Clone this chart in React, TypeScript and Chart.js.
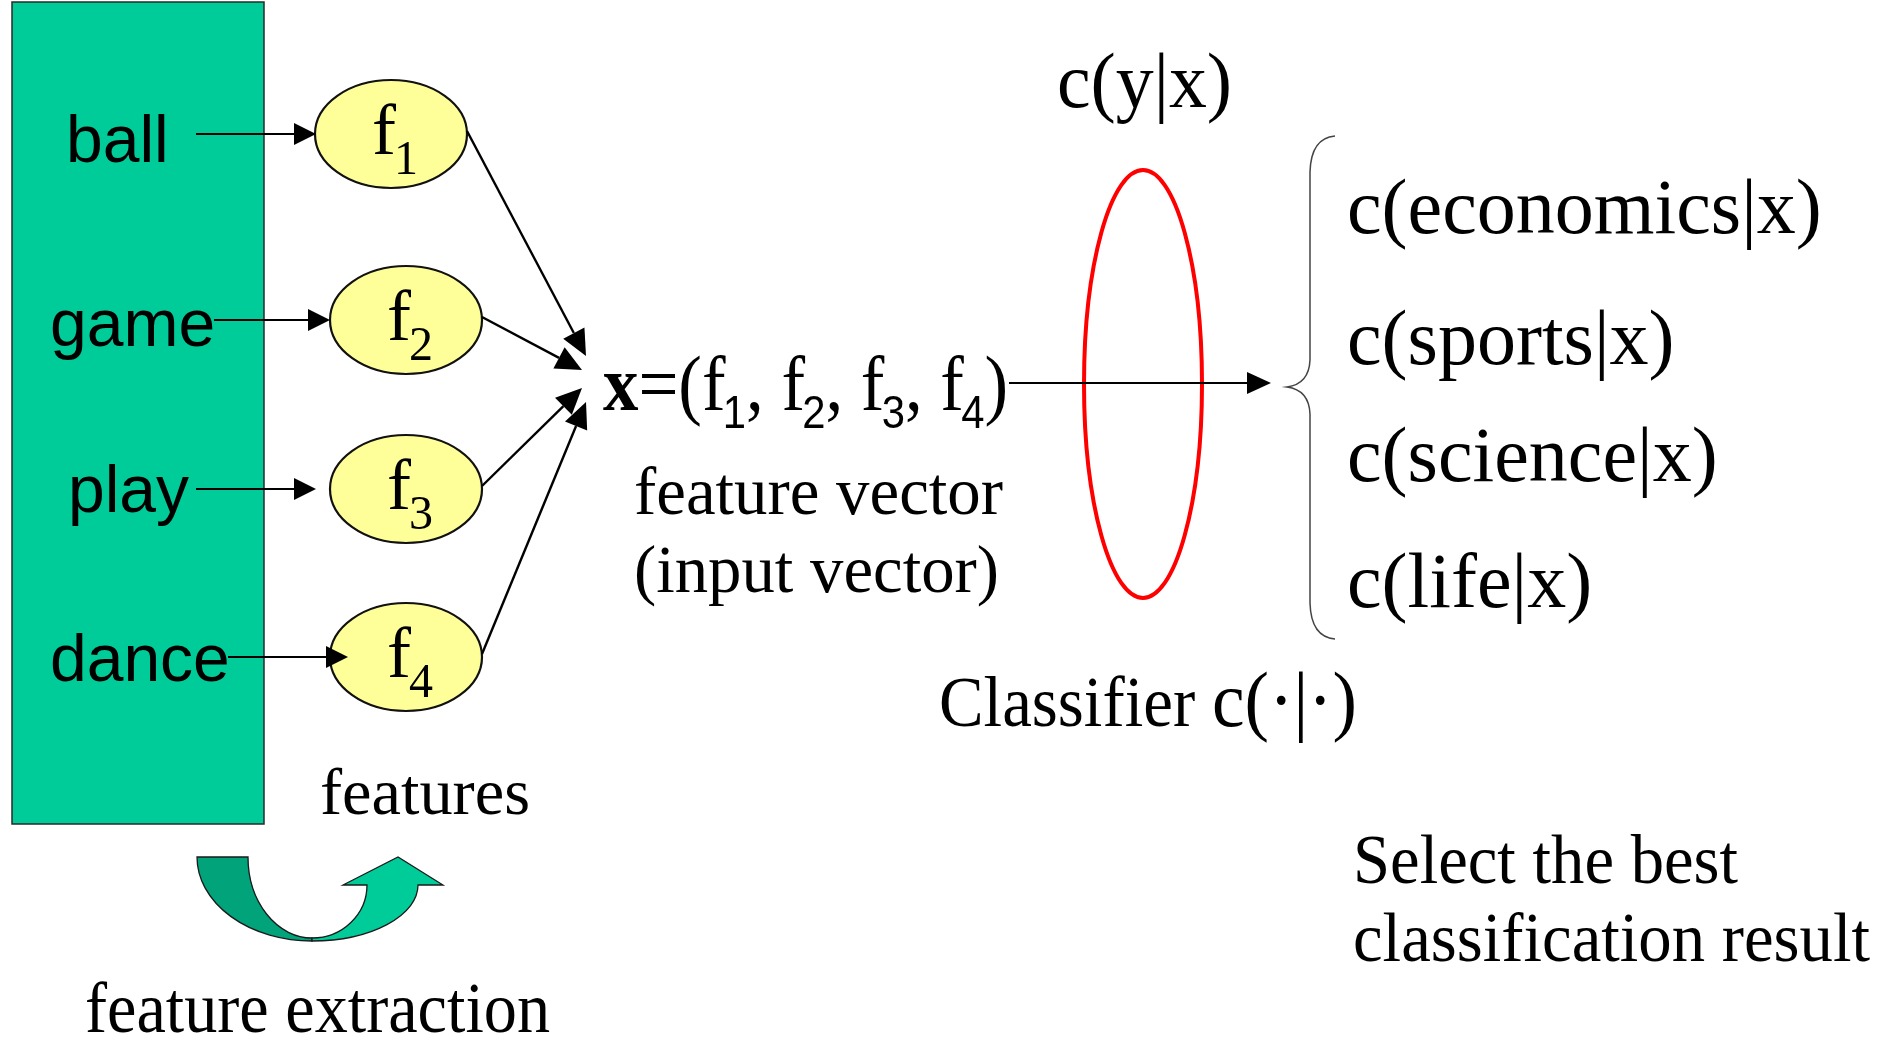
import React, { useEffect, useRef } from "react";
import { Chart, registerables } from "chart.js";

Chart.register(...registerables);

const FRAME_W = 1883;
const FRAME_H = 1037;

// ---- content ----
const WORDS = ["ball", "game", "play", "dance"];
const FEATURE_SUBS = ["1", "2", "3", "4"];
const CLASSES = ["economics", "sports", "science", "life"];
const TOP_LABEL = "c(y|x)";
const VECTOR_CAPTION = ["feature vector", "(input vector)"];
const CLASSIFIER_CAPTION = "Classifier c(·|·)";
const FEATURES_CAPTION = "features";
const EXTRACTION_CAPTION = "feature extraction";
const SELECT_CAPTION = ["Select the best", "classification result"];

// ---- layout (diagram units on the x / y scales) ----
const WORD_X = [66, 50, 68, 50];
const WORD_Y = [162, 346, 512, 681];
const ARROW_FROM_X = [196, 214, 196, 228];
const ARROW_TO_X = [316, 330, 316, 348];
const NODE_X = [391, 406, 406, 406];
const NODE_Y = [134, 320, 489, 657];
const EDGE_TO_X = [586, 582, 582, 586];
const EDGE_TO_Y = [356, 370, 388, 402];
const CLASS_Y = [233, 364, 481, 607];

const SERIF = "'Liberation Serif', 'Times New Roman', serif";
const SANS = "'Liberation Sans', Arial, sans-serif";

type Run = { t: string; font: string; dy?: number; dx?: number };

function drawRuns(ctx: CanvasRenderingContext2D, runs: Run[], x: number, y: number, targetW?: number) {
  let total = 0;
  for (const r of runs) {
    ctx.font = r.font;
    total += ctx.measureText(r.t).width + (r.dx || 0);
  }
  const sx = targetW ? targetW / total : 1;
  ctx.save();
  ctx.translate(x, y);
  ctx.scale(sx, 1);
  ctx.textBaseline = "alphabetic";
  ctx.textAlign = "left";
  let cx = 0;
  for (const r of runs) {
    ctx.font = r.font;
    cx += r.dx || 0;
    ctx.fillText(r.t, cx, r.dy || 0);
    cx += ctx.measureText(r.t).width;
  }
  ctx.restore();
}

function arrow(ctx: CanvasRenderingContext2D, x1: number, y1: number, x2: number, y2: number, len = 20, half = 10) {
  const a = Math.atan2(y2 - y1, x2 - x1);
  const bx = x2 - len * Math.cos(a);
  const by = y2 - len * Math.sin(a);
  ctx.beginPath();
  ctx.moveTo(x1, y1);
  ctx.lineTo(bx, by);
  ctx.stroke();
  ctx.beginPath();
  ctx.moveTo(x2, y2);
  ctx.lineTo(bx + half * Math.sin(a), by - half * Math.cos(a));
  ctx.lineTo(bx - half * Math.sin(a), by + half * Math.cos(a));
  ctx.closePath();
  ctx.fill();
}

const diagramPlugin = {
  id: "diagram",
  afterDraw(chart: any) {
    const ctx: CanvasRenderingContext2D = chart.ctx;
    const xs = chart.scales.x;
    const ys = chart.scales.y;
    const X = (v: number) => xs.getPixelForValue(v);
    const Y = (v: number) => ys.getPixelForValue(v);
    const S = (v: number) => X(v) - X(0);
    const SY = (v: number) => Y(v) - Y(0);

    ctx.save();
    ctx.fillStyle = "#ffffff";
    ctx.fillRect(0, 0, chart.width, chart.height);

    // green document box
    ctx.fillStyle = "#00CC99";
    ctx.strokeStyle = "#2a2a2a";
    ctx.lineWidth = 1.5;
    ctx.fillRect(X(12), Y(2), S(252), SY(822));
    ctx.strokeRect(X(12), Y(2), S(252), SY(822));

    // words
    ctx.fillStyle = "#000";
    WORDS.forEach((w, i) => {
      drawRuns(ctx, [{ t: w, font: `66px ${SANS}` }], X(WORD_X[i]), Y(WORD_Y[i]));
    });

    // feature nodes
    FEATURE_SUBS.forEach((s, i) => {
      ctx.beginPath();
      ctx.ellipse(X(NODE_X[i]), Y(NODE_Y[i]), S(76), SY(54), 0, 0, Math.PI * 2);
      ctx.fillStyle = "#FFFF99";
      ctx.fill();
      ctx.lineWidth = 2.2;
      ctx.strokeStyle = "#111";
      ctx.stroke();
      ctx.fillStyle = "#000";
      drawRuns(
        ctx,
        [
          { t: "f", font: `72px ${SERIF}` },
          { t: s, font: `48px ${SERIF}`, dy: 20, dx: -2 },
        ],
        X(NODE_X[i] - 19),
        Y(NODE_Y[i] + 20)
      );
    });

    // word -> feature arrows
    ctx.strokeStyle = "#000";
    ctx.fillStyle = "#000";
    ctx.lineWidth = 2.2;
    WORDS.forEach((_, i) => {
      arrow(ctx, X(ARROW_FROM_X[i]), Y(NODE_Y[i]), X(ARROW_TO_X[i]), Y(NODE_Y[i]), 22, 11);
    });

    // feature -> vector edges
    ctx.lineWidth = 2.4;
    FEATURE_SUBS.forEach((_, i) => {
      arrow(ctx, X(NODE_X[i] + 76), Y(NODE_Y[i] - 3), X(EDGE_TO_X[i]), Y(EDGE_TO_Y[i]), 26, 12);
    });

    // x = (f1, f2, f3, f4)
    const big = `78px ${SERIF}`;
    const sub = `46px ${SANS}`;
    const runs: Run[] = [{ t: "x", font: `bold 78px ${SERIF}` }, { t: "=(", font: big }];
    FEATURE_SUBS.forEach((s, i) => {
      runs.push({ t: "f", font: big });
      runs.push({ t: s, font: sub, dy: 18, dx: -3 });
      if (i < FEATURE_SUBS.length - 1) runs.push({ t: ", ", font: big });
    });
    runs.push({ t: ")", font: big });
    drawRuns(ctx, runs, X(603), Y(410), S(405));

    // captions for vector
    drawRuns(ctx, [{ t: VECTOR_CAPTION[0], font: `67px ${SERIF}` }], X(634), Y(514), S(369));
    drawRuns(ctx, [{ t: VECTOR_CAPTION[1], font: `67px ${SERIF}` }], X(634), Y(592), S(365));

    // classifier ellipse
    ctx.beginPath();
    ctx.ellipse(X(1143), Y(384), S(59), SY(214), 0, 0, Math.PI * 2);
    ctx.strokeStyle = "#FF0000";
    ctx.lineWidth = 4;
    ctx.stroke();

    // vector -> classes arrow
    ctx.strokeStyle = "#000";
    ctx.fillStyle = "#000";
    ctx.lineWidth = 2.2;
    arrow(ctx, X(1009), Y(383), X(1271), Y(383), 24, 11);

    // c(y|x)
    drawRuns(ctx, [{ t: TOP_LABEL, font: `78px ${SERIF}` }], X(1057), Y(107), S(175));

    // brace
    ctx.beginPath();
    ctx.moveTo(X(1335), Y(136));
    ctx.quadraticCurveTo(X(1311), Y(138), X(1310), Y(172));
    ctx.lineTo(X(1310), Y(360));
    ctx.quadraticCurveTo(X(1309), Y(384), X(1287), Y(387));
    ctx.quadraticCurveTo(X(1309), Y(390), X(1310), Y(414));
    ctx.lineTo(X(1310), Y(603));
    ctx.quadraticCurveTo(X(1311), Y(637), X(1335), Y(639));
    ctx.strokeStyle = "#444";
    ctx.lineWidth = 1.5;
    ctx.stroke();

    // class labels
    ctx.fillStyle = "#000";
    CLASSES.forEach((c, i) => {
      drawRuns(ctx, [{ t: `c(${c}|x)`, font: `78px ${SERIF}` }], X(1347), Y(CLASS_Y[i]));
    });

    // classifier caption
    drawRuns(
      ctx,
      [
        { t: "Classifier ", font: `71px ${SERIF}` },
        { t: "c(·|·)", font: `78px ${SERIF}` },
      ],
      X(939),
      Y(726),
      S(418)
    );

    // features caption
    drawRuns(ctx, [{ t: FEATURES_CAPTION, font: `66px ${SERIF}` }], X(320), Y(814), S(210));

    // select caption
    drawRuns(ctx, [{ t: SELECT_CAPTION[0], font: `69px ${SERIF}` }], X(1353), Y(883), S(385));
    drawRuns(ctx, [{ t: SELECT_CAPTION[1], font: `69px ${SERIF}` }], X(1353), Y(961), S(517));

    // feature extraction caption
    drawRuns(ctx, [{ t: EXTRACTION_CAPTION, font: `71px ${SERIF}` }], X(85), Y(1032), S(465));

    // curved arrow: dark part
    ctx.lineWidth = 1.3;
    ctx.strokeStyle = "#1a1a1a";
    ctx.beginPath();
    ctx.moveTo(X(197), Y(857));
    ctx.lineTo(X(248), Y(857));
    ctx.ellipse(X(312), Y(857), S(64), SY(81), 0, Math.PI, Math.PI / 2, true);
    ctx.ellipse(X(312), Y(857), S(115), SY(84), 0, Math.PI / 2, Math.PI, false);
    ctx.closePath();
    ctx.fillStyle = "#00A37A";
    ctx.fill();
    ctx.stroke();

    // curved arrow: light part with head
    ctx.beginPath();
    ctx.moveTo(X(312), Y(938));
    ctx.ellipse(X(312), Y(885), S(55), SY(53), 0, Math.PI / 2, 0, true);
    ctx.lineTo(X(343), Y(885));
    ctx.lineTo(X(398), Y(857));
    ctx.lineTo(X(443), Y(885));
    ctx.lineTo(X(418), Y(885));
    ctx.ellipse(X(312), Y(885), S(106), SY(56), 0, 0, Math.PI / 2, false);
    ctx.closePath();
    ctx.fillStyle = "#00CC99";
    ctx.fill();
    ctx.stroke();

    ctx.restore();
  },
};

export default function App() {
  const ref = useRef<HTMLCanvasElement | null>(null);
  useEffect(() => {
    document.body.style.margin = "0";
    const canvas = ref.current;
    if (!canvas) return;
    const chart = new Chart(canvas, {
      type: "scatter",
      data: { datasets: [{ data: [], pointRadius: 0 }] },
      options: {
        animation: false,
        responsive: false,
        maintainAspectRatio: false,
        devicePixelRatio: 1,
        layout: { padding: 0 },
        events: [],
        scales: {
          x: { type: "linear", min: 0, max: FRAME_W, display: false },
          y: { type: "linear", min: 0, max: FRAME_H, reverse: true, display: false },
        },
        plugins: { legend: { display: false }, tooltip: { enabled: false } },
      },
      plugins: [diagramPlugin],
    } as any);
    return () => chart.destroy();
  }, []);
  return (
    <div style={{ position: "absolute", left: 0, top: 0, width: FRAME_W, height: FRAME_H, background: "#fff" }}>
      <canvas ref={ref} width={FRAME_W} height={FRAME_H} style={{ display: "block" }} />
    </div>
  );
}
